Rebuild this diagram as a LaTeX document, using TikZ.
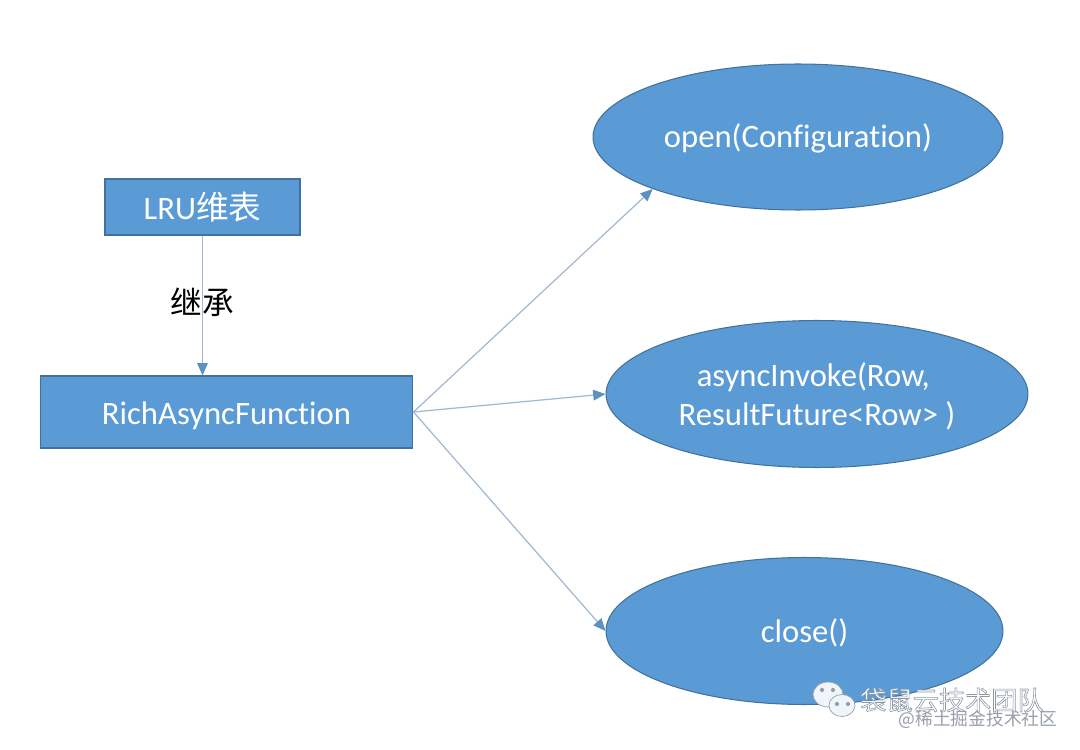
\documentclass[tikz,border=0pt]{standalone}
\usepackage{fontspec}
\usepackage{tikz}
\usetikzlibrary{arrows.meta,shapes.geometric}
\setmainfont[Ligatures=NoCommon]{Carlito}
\newfontfamily\cjk{Noto Sans CJK SC}
\definecolor{boxblue}{RGB}{91, 155, 213}
\definecolor{edgeblue}{RGB}{65, 113, 156}
\definecolor{lineblue}{RGB}{160, 186, 212}
\definecolor{tipblue}{RGB}{91, 145, 195}
\definecolor{markgray}{RGB}{150, 160, 170}
\newcommand{\outlined}[1]{\special{pdf:code 2 Tr 0.35 w 0.55 0.6 0.65 RG}#1\special{pdf:code 0 Tr}}
\tikzset{
	boxnode/.style={rectangle, draw=edgeblue, line width=0.6pt, fill=boxblue, text=white, inner sep=0pt, font=\fontsize{18.6}{22}\selectfont},
	ovalnode/.style={ellipse, draw=edgeblue, line width=0.6pt, fill=boxblue, text=white, inner sep=0pt, align=center, font=\fontsize{18.6}{22}\selectfont},
	linkline/.style={lineblue, line width=0.7pt, -{Triangle[length=7pt,width=6pt,color=tipblue]}},
	bubble/.style={ellipse, draw=markgray, line width=0.4pt, fill=white!90!boxblue, inner sep=0pt},
	eyedot/.style={circle, fill=markgray, inner sep=0pt, minimum size=2.4pt}
}

\begin{document}
\begin{tikzpicture}[x=0.02cm,y=-0.02cm]
	\useasboundingbox[fill=white] (0,0) rectangle (1080,750);
	\node[boxnode, minimum width=3.9cm, minimum height=1.12cm] (lru) at (202.5,207) {LRU{\cjk 维表}};
	\node[boxnode, minimum width=7.46cm, minimum height=1.44cm, text height=17.5pt, text depth=3.5pt] (rich) at (226.5,412) {RichAsyncFunction};
	\node[ovalnode, minimum width=8.2cm, minimum height=2.92cm, text height=16pt, text depth=4.2pt] (open) at (798,137) {open(Configuration)};
	\node[ovalnode, minimum width=8.44cm, minimum height=2.94cm] (invoke) at (817,394) {\rule{0pt}{16.5pt}asyncInvoke(Row,\ \null\\ResultFuture<Row> )};
	\node[ovalnode, minimum width=7.94cm, minimum height=2.94cm, text height=17pt, text depth=4.1pt] (close) at (804.5,631) {close()};

	% inherit
	\draw[linkline](lru.south) -- (lru.south |- rich.north);
	\node[font=\cjk\fontsize{18}{22}\selectfont] (inherit) at (202,302) {继承};
	% methods
	\draw[linkline](rich.east) -- (open.south west);
	\draw[linkline](rich.east) -- (invoke.west);
	\draw[linkline](rich.east) -- (close.west);

	% watermark
	\node[bubble, minimum width=0.6cm, minimum height=0.5cm] (back) at (828,694.5) {};
	\node[bubble, minimum width=0.52cm, minimum height=0.44cm] (front) at (842,705.5) {};
	\node[eyedot] (eyea) at (822,690) {};
	\node[eyedot] (eyeb) at (833,690) {};
	\node[eyedot] (eyec) at (837,704) {};
	\node[eyedot] (eyed) at (848,704) {};
	\node[white, font=\cjk\fontsize{14.9}{18}\selectfont] (team) at (952,700) {\outlined{袋鼠云技术团队}};
	\node[markgray, font=\cjk\fontsize{10.1}{12}\selectfont] (site) at (978,720) {@稀土掘金技术社区};
\end{tikzpicture}
\end{document}
